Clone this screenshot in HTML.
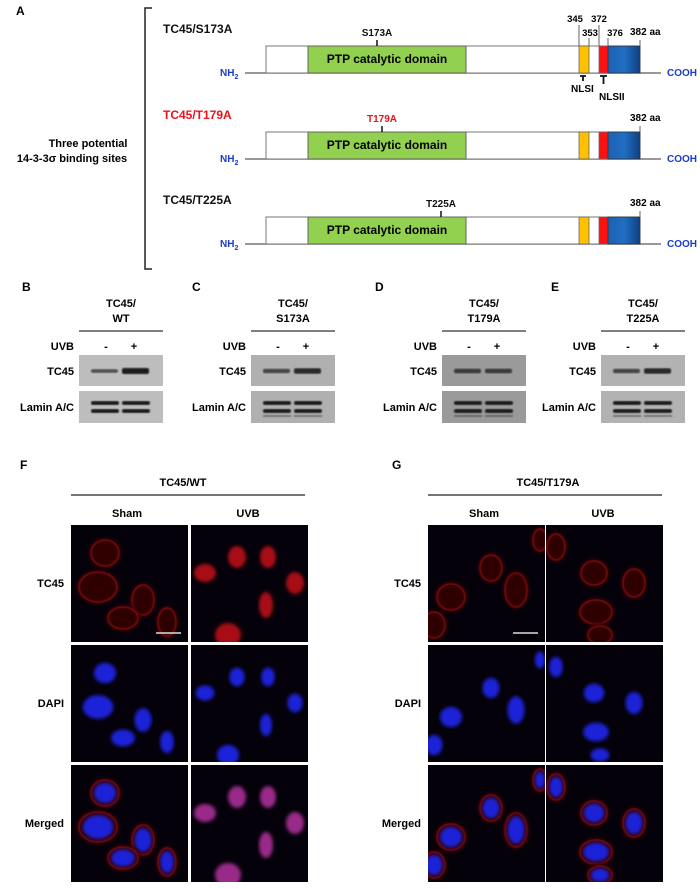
<!DOCTYPE html>
<html><head><meta charset="utf-8"><style>
html,body{margin:0;padding:0;background:#fff;}
svg{display:block;font-family:"Liberation Sans",sans-serif;font-weight:bold;}
</style></head><body>
<svg id="fig" width="700" height="889" viewBox="0 0 700 889">
<defs>
<filter id="blur1"><feGaussianBlur stdDeviation="1.8"/></filter>
<filter id="blur2"><feGaussianBlur stdDeviation="0.8"/></filter>
<linearGradient id="blueg" x1="0" y1="0" x2="1" y2="0"><stop offset="0" stop-color="#1f5fb0"/><stop offset="0.5" stop-color="#1f6fc4"/><stop offset="1" stop-color="#123f80"/></linearGradient>
</defs>
<g font-size="11">
<text x="16" y="15" font-size="12">A</text>
<path d="M152,8 H145 V269 H152" fill="none" stroke="#222" stroke-width="1.5"/>
<text x="88" y="147" text-anchor="middle">Three potential</text>
<text x="72" y="162" text-anchor="middle">14-3-3σ binding sites</text>
<g id="rows"></g>
<text x="575" y="22" font-size="9.5" text-anchor="middle">345</text>
<text x="599" y="22" font-size="9.5" text-anchor="middle">372</text>
<text x="590" y="36" font-size="9.5" text-anchor="middle">353</text>
<text x="615" y="36" font-size="9.5" text-anchor="middle">376</text>
<line x1="579" y1="25" x2="579" y2="46" stroke="#666"/><line x1="589" y1="38" x2="589" y2="46" stroke="#666"/>
<line x1="599" y1="25" x2="599" y2="46" stroke="#666"/><line x1="608" y1="38" x2="608" y2="46" stroke="#666"/>
<path d="M580,76 H586 M583,76 V81" stroke="#111" stroke-width="1.8"/>
<text x="571" y="92" font-size="10">NLSI</text>
<path d="M600,76 H607 M603.5,76 V84" stroke="#111" stroke-width="1.8"/>
<text x="599" y="100" font-size="10">NLSII</text>
</g>
<g id="blots" font-size="11"></g>
<g id="micro" font-size="11"></g>
</svg>
<script>
const NS="http://www.w3.org/2000/svg";
function mk(tag,attrs,parent,txt){const e=document.createElementNS(NS,tag);for(const k in attrs)e.setAttribute(k,attrs[k]);if(txt!==undefined)e.textContent=txt;parent.appendChild(e);return e;}
// ---- Panel A rows
const rowTops=[46,132,217];
const rowNames=["TC45/S173A","TC45/T179A","TC45/T225A"];
const rowColors=["#111","#e8141c","#111"];
const mutX=[377,382,441];
const rows=document.getElementById('rows');
rowTops.forEach((t,i)=>{
  const g=mk('g',{},rows);
  
  
  const base=t+27;
  mk('text',{x:163,y:t-13,fill:rowColors[i],'font-size':12},g,rowNames[i]);
  mk('line',{x1:245,y1:base,x2:661,y2:base,stroke:'#777','stroke-width':1.5},g);
  mk('rect',{x:266,y:t,width:374,height:27,fill:'#fff',stroke:'#777','stroke-width':1},g);
  mk('rect',{x:308,y:t,width:158,height:27,fill:'#92d050',stroke:'#666','stroke-width':1},g);
  mk('text',{x:387,y:t+17,'text-anchor':'middle','font-size':12},g,'PTP catalytic domain');
  mk('rect',{x:579,y:t,width:10,height:27,fill:'#ffc000',stroke:'#666','stroke-width':0.8},g);
  mk('rect',{x:599,y:t,width:9,height:27,fill:'#ff1010',stroke:'#666','stroke-width':0.8},g);
  mk('rect',{x:608,y:t,width:32,height:27,fill:'url(#blueg)',stroke:'#333','stroke-width':0.8},g);
  mk('line',{x1:640,y1:t-6,x2:640,y2:t,stroke:'#666'},g);
  mk('text',{x:630,y:t-11,'font-size':10},g,'382 aa');
  mk('line',{x1:mutX[i],y1:t-6,x2:mutX[i],y2:t,stroke:'#111','stroke-width':1.5},g);
  mk('text',{x:mutX[i],y:t-10,'text-anchor':'middle','font-size':10,fill:rowColors[i]},g,rowNames[i].split('/')[1]);
  const nh=mk('text',{x:220,y:base+3,fill:'#1a3ccc','font-size':10},g,'NH');
  mk('tspan',{'font-size':7,dy:3},nh,'2');
  mk('text',{x:667,y:base+3,fill:'#1a3ccc','font-size':10},g,'COOH');
});
// ---- Blots
const blotLabels=["B","C","D","E"];
const blotX=[79,251,442,601];
const blotNames=["WT","S173A","T179A","T225A"];
const tc45Minus=[0.45,0.55,0.6,0.55];
const tc45Plus=[1.0,0.85,0.6,0.85];
const blotBg=["#bdbdbd","#b0b0b0","#9a9a9a","#b2b2b2"];
const labelX=[22,192,375,551];
const bl=document.getElementById('blots');
blotX.forEach((x,i)=>{
  const g=mk('g',{},bl);
  
  
  mk('text',{x:labelX[i],y:291,'font-size':12},g,blotLabels[i]);
  const cx=x+42;
  mk('text',{x:cx,y:307,'text-anchor':'middle'},g,'TC45/');
  mk('text',{x:cx,y:322,'text-anchor':'middle'},g,blotNames[i]);
  mk('line',{x1:x,y1:331,x2:x+84,y2:331,stroke:'#333','stroke-width':1.2},g);
  mk('text',{x:x-5,y:350,'text-anchor':'end'},g,'UVB');
  mk('text',{x:x+27,y:350,'text-anchor':'middle'},g,'-');
  mk('text',{x:x+55,y:350,'text-anchor':'middle'},g,'+');
  mk('text',{x:x-5,y:375,'text-anchor':'end'},g,'TC45');
  mk('text',{x:x-5,y:411,'text-anchor':'end'},g,'Lamin A/C');
  mk('rect',{x:x,y:355,width:84,height:31,fill:blotBg[i]},g);
  mk('rect',{x:x,y:391,width:84,height:32,fill:blotBg[i]},g);
  [tc45Minus[i],tc45Plus[i]].forEach((v,j)=>{
    const bx=x+(j?43:12);
    mk('rect',{x:bx,y:370-2*v,width:27,height:2+4*v,rx:2,fill:'#1a1a1a',opacity:0.4+0.6*v,filter:'url(#blur2)'},g);
  });
  [0,1].forEach(j=>{
    const bx=x+(j?43:12);
    mk('rect',{x:bx,y:401,width:28,height:4,rx:2,fill:'#1a1a1a',filter:'url(#blur2)'},g);
    mk('rect',{x:bx,y:409,width:28,height:4,rx:2,fill:'#1a1a1a',filter:'url(#blur2)'},g);
    if(i>=1) mk('rect',{x:bx,y:415,width:28,height:2,fill:'#333',opacity:0.5,filter:'url(#blur2)'},g);
  });
});
// ---- Microscopy
const mic=document.getElementById('micro');
const panels=[
 {lab:"F",lx:20,title:"TC45/WT",tx:183,ux1:71,ux2:305,cols:[71,191],labx:64,
  cells:[[[105,553,13,12],[98,587,18,14],[143,600,10,14],[123,618,14,10],[167,622,8,13]],
         [[237,557,9,11],[268,557,8,11],[205,573,11,9],[295,583,9,11],[266,605,7,13],[228,635,13,12]]],
  uvbFill:true},
 {lab:"G",lx:392,title:"TC45/T179A",tx:548,ux1:428,ux2:662,cols:[428,546],labx:421,
  cells:[[[491,568,10,12],[516,590,10,16],[451,597,13,12],[434,625,10,12],[540,540,6,10]],
         [[556,547,8,12],[594,573,12,11],[634,583,10,13],[596,612,15,11],[600,635,11,8]]],
  uvbFill:false}
];
const rowY=[525,645,765];
const rowLab=["TC45","DAPI","Merged"];
panels.forEach((p,pi)=>{
  const g=mk('g',{},mic);
  
  
  mk('text',{x:p.lx,y:469,'font-size':12},g,p.lab);
  mk('text',{x:p.tx,y:486,'text-anchor':'middle'},g,p.title);
  mk('line',{x1:p.ux1,y1:495,x2:p.ux2,y2:495,stroke:'#222','stroke-width':1.2},g);
  mk('text',{x:p.cols[0]+56,y:517,'text-anchor':'middle'},g,'Sham');
  mk('text',{x:p.cols[1]+57,y:517,'text-anchor':'middle'},g,'UVB');
  rowY.forEach((y,ri)=>{
    mk('text',{x:p.labx,y:y+62,'text-anchor':'end'},g,rowLab[ri]);
    p.cols.forEach((x,ci)=>{
      const cid='c'+pi+ri+ci;
      const cp=mk('clipPath',{id:cid},g);
      mk('rect',{x:x,y:y,width:117,height:117},cp);
      const img=mk('g',{'clip-path':'url(#'+cid+')'},g);
      
      
      mk('rect',{x:x,y:y,width:117,height:117,fill:'#05010a'},img);
      const dy=y-525;
      p.cells[ci].forEach(c=>{
        const cx=c[0],cy=c[1]+dy,rx=c[2],ry=c[3];
        const filled=(ci===1&&p.uvbFill);
        if(ri===0||ri===2){
          if(filled){
            mk('ellipse',{cx:cx,cy:cy,rx:rx,ry:ry,fill:ri===0?'#a80e18':'#9a2c8a',filter:'url(#blur1)'},img);
          } else {
            mk('ellipse',{cx:cx,cy:cy,rx:rx+3,ry:ry+3,fill:'#2e0306',filter:'url(#blur1)'},img);
            mk('ellipse',{cx:cx,cy:cy,rx:rx+1,ry:ry+1,fill:'none',stroke:'#9a1018','stroke-width':1.5,opacity:0.85,filter:'url(#blur2)'},img);
          }
        }
        if(ri===1||(ri===2&&!filled)){
          mk('ellipse',{cx:cx,cy:cy,rx:rx*0.85,ry:ry*0.85,fill:'#1a22d8',filter:'url(#blur1)'},img);
        }
      });
      if(ri===0&&ci===0) mk('line',{x1:x+85,y1:y+108,x2:x+110,y2:y+108,stroke:'#ddd','stroke-width':1.5},img);
    });
  });
});
</script>
</body></html>
